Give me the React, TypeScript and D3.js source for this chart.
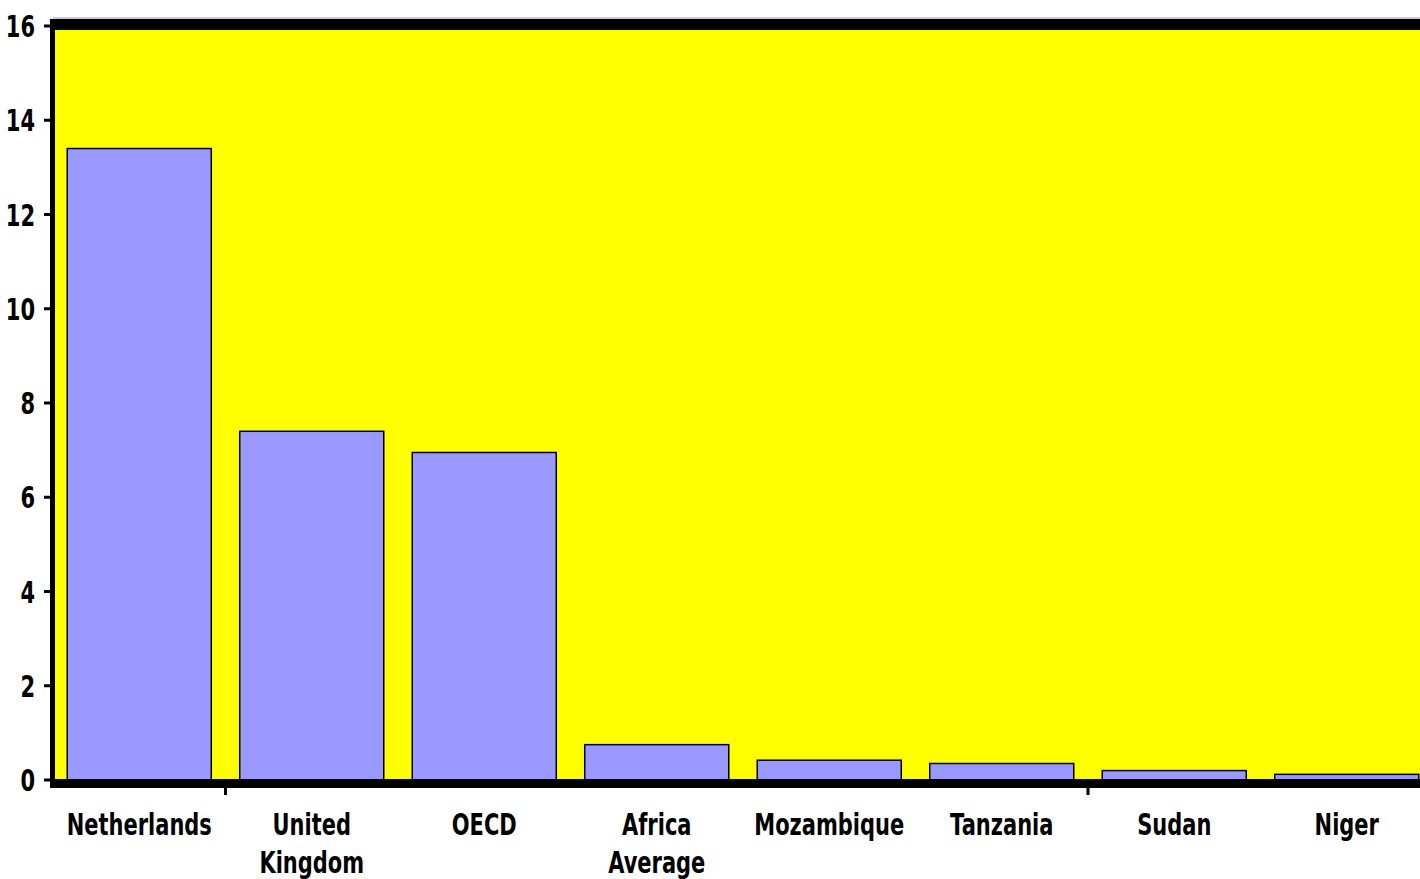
import React from 'react';
import * as d3 from 'd3';

const categories = ['Netherlands', 'United Kingdom', 'OECD', 'Africa Average', 'Mozambique', 'Tanzania', 'Sudan', 'Niger'];
const values = [13.4, 7.4, 6.95, 0.75, 0.42, 0.35, 0.2, 0.12];
const yTicks = [0, 2, 4, 6, 8, 10, 12, 14, 16];

const W = 1420;
const H = 879;
const FONT = '"DejaVu Sans", sans-serif';
const SX = 0.7; // squeeze text horizontally, the original font is very narrow

const App: React.FC = () => {
  const left = 53;
  const right = 1433;
  const y = d3.scaleLinear().domain([0, 16]).range([780, 26]);
  const x = d3.scaleBand<string>()
    .domain(categories)
    .range([left, right])
    .paddingInner(0.165)
    .paddingOuter(0.0825);
  const step = x.step();

  return (
    <div style={{ position: 'fixed', left: 0, top: 0, width: W, height: H, background: '#fff' }}>
      <svg width={W} height={H} style={{ display: 'block' }}>
        {/* plot area */}
        <rect x={left} y={y(16)} width={right - left} height={y(0) - y(16)} fill="#ffff00" />
        <rect x={left} y={19} width={right - left} height={11} fill="#000" />
        <line x1={left} x2={right} y1={18} y2={18} stroke="#999" strokeWidth={1} />

        {/* bars */}
        {categories.map((c, i) => (
          <rect
            key={c}
            x={x(c)}
            y={y(values[i])}
            width={x.bandwidth()}
            height={y(0) - y(values[i])}
            fill="#9999ff"
            stroke="#000"
            strokeWidth={1.5}
          />
        ))}

        {/* y axis */}
        <rect x={50} y={19} width={5} height={y(0) - 19 + 8} fill="#000" />
        {yTicks.map(t => (
          <g key={t}>
            <line x1={44} x2={52} y1={y(t)} y2={y(t)} stroke="#000" strokeWidth={3} />
            <text
              transform={`translate(35,${y(t)}) scale(${SX},1)`}
              dy="0.37em"
              textAnchor="end"
              fontFamily={FONT}
              fontWeight="bold"
              fontSize={30}
              fill="#000"
            >
              {t}
            </text>
          </g>
        ))}

        {/* x axis */}
        <rect x={left - 3} y={779} width={right - left + 3} height={9} fill="#000" />
        {[1, 6].map(k => (
          <line key={k} x1={left + k * step} x2={left + k * step} y1={785} y2={795} stroke="#000" strokeWidth={3} />
        ))}
        {categories.map(c => {
          const lines = c.split(' ');
          const cx = (x(c) || 0) + x.bandwidth() / 2;
          return (
            <text
              key={c}
              transform={`translate(${cx},835) scale(${SX},1)`}
              textAnchor="middle"
              fontFamily={FONT}
              fontWeight="bold"
              fontSize={30}
              fill="#000"
            >
              {lines.map((l, j) => (
                <tspan key={j} x={0} dy={j === 0 ? 0 : 38}>{l}</tspan>
              ))}
            </text>
          );
        })}
      </svg>
    </div>
  );
};

export default App;
